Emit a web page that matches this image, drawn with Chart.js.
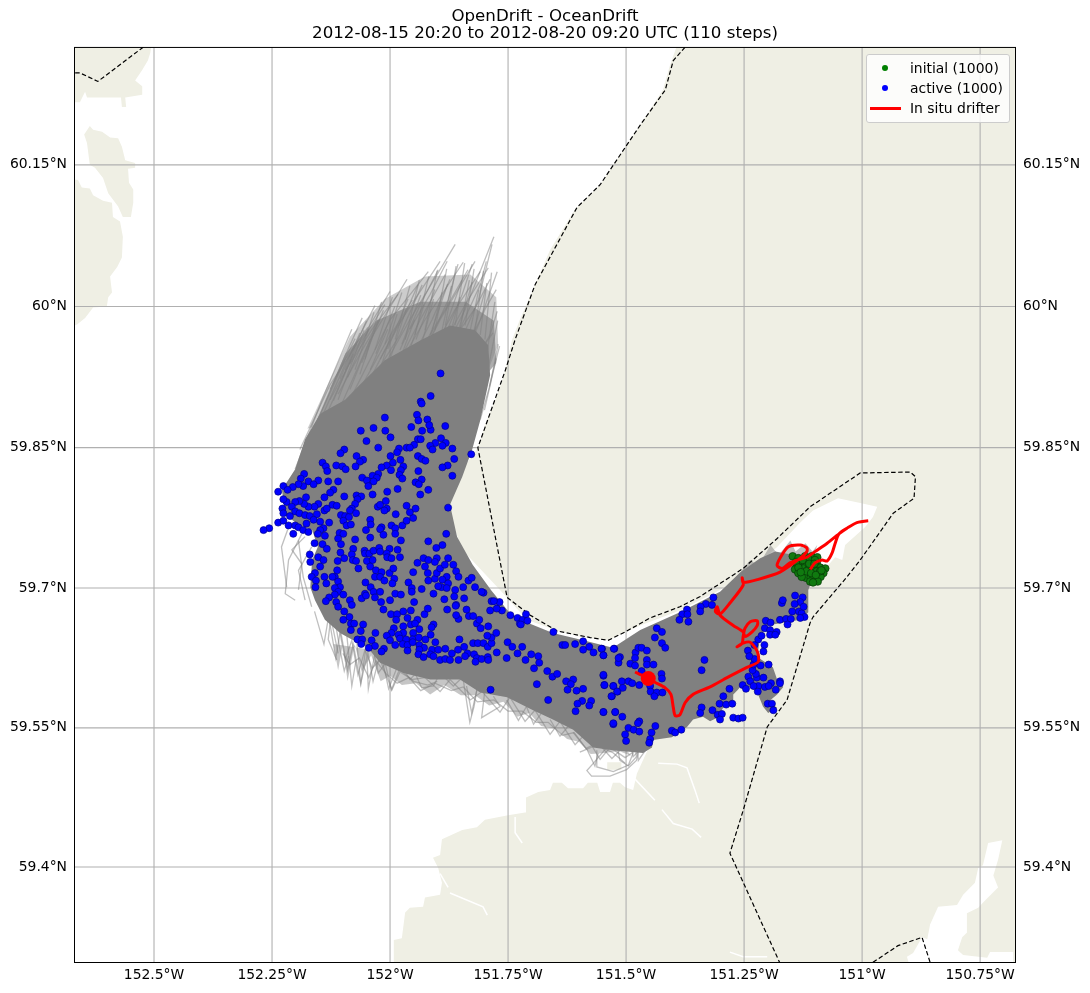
<!DOCTYPE html>
<html>
<head>
<meta charset="utf-8">
<title>OpenDrift - OceanDrift</title>
<script src="https://cdn.jsdelivr.net/npm/chart.js@4/dist/chart.umd.min.js"></script>
<style>
    body { margin: 0; background: #fff; font-family: "DejaVu Sans", sans-serif; }
    #wrap { position: relative; width: 1090px; height: 993px; }
    #legend {
        position: absolute; left: 866px; top: 54px; width: 142px; height: 67px;
        background: rgba(255,255,255,.8); border: 1px solid #ccc; border-radius: 3px;
        font-size: 13.9px; color: #000;
    }
    #legend div { position: absolute; left: 43px; white-space: nowrap; line-height: 16px; }
    #legend i { position: absolute; display: block; }
    #legend i.dot { left: 15px; width: 6px; height: 6px; border-radius: 50%; }
    #legend i.bar { left: 3px; top: 52px; width: 31px; height: 2.5px; background: #f00; }
</style>
</head>
<body>
<div id="wrap">
    <canvas id="chart" width="1090" height="993"></canvas>
    <div id="legend">
        <i class="dot" style="top:10px;background:#008000"></i><div id="lg0" style="top:5px"></div>
        <i class="dot" style="top:30px;background:#00f"></i><div id="lg1" style="top:25px"></div>
        <i class="bar"></i><div id="lg2" style="top:45px"></div>
    </div>
</div>
<script>
const titleLines = ["OpenDrift - OceanDrift", "2012-08-15 20:20 to 2012-08-20 09:20 UTC (110 steps)"];
const legendNames = ["initial (1000)", "active (1000)", "In situ drifter"];

const lonTicks = [-152.5, -152.25, -152, -151.75, -151.5, -151.25, -151, -150.75];
const lonTickLabels = ["152.5°W", "152.25°W", "152°W", "151.75°W", "151.5°W", "151.25°W", "151°W", "150.75°W"];
const latTicks = [59.4, 59.55, 59.7, 59.85, 60, 60.15];
const latTickLabels = ["59.4°N", "59.55°N", "59.7°N", "59.85°N", "60°N", "60.15°N"];
const lonLimits = [-152.6695, -150.674];
const latLimits = [59.2973, 60.2743];

// land, flat lon,lat lists
const landEast = [-151.992,59.25,-151.992,59.321,-151.975,59.323,-151.968,59.351,-151.958,59.356,-151.930,59.357,-151.926,59.367,-151.894,59.370,-151.890,59.383,-151.898,59.399,-151.909,59.410,-151.894,59.413,-151.890,59.430,-151.847,59.440,-151.816,59.443,-151.799,59.451,-151.750,59.456,-151.714,59.459,-151.712,59.475,-151.686,59.481,-151.661,59.483,-151.655,59.491,-151.636,59.491,-151.623,59.485,-151.591,59.485,-151.581,59.491,-151.561,59.491,-151.555,59.481,-151.534,59.481,-151.528,59.491,-151.513,59.491,-151.502,59.486,-151.485,59.483,-151.477,59.501,-151.449,59.532,-151.439,59.542,-151.40,59.56,-151.30,59.58,-151.24,59.61,-151.23,59.65,-151.20,59.67,-151.13,59.68,-151.115,59.70,-151.078,59.721,-151.057,59.733,-151.042,59.730,-151.036,59.746,-150.994,59.765,-150.977,59.776,-150.968,59.787,-151.004,59.791,-151.051,59.796,-151.104,59.783,-151.131,59.770,-151.180,59.744,-151.237,59.719,-151.301,59.698,-151.386,59.676,-151.470,59.660,-151.538,59.644,-151.591,59.647,-151.650,59.655,-151.710,59.666,-151.767,59.698,-151.847,59.741,-151.877,59.783,-151.862,59.816,-151.814,59.850,-151.799,59.874,-151.773,59.906,-151.756,59.932,-151.742,59.964,-151.725,59.986,-151.693,60.023,-151.661,60.060,-151.608,60.103,-151.555,60.129,-151.470,60.192,-151.422,60.229,-151.407,60.255,-151.375,60.3,-150.6,60.3,-150.6,59.25];
const landNorthWest = [-152.7,60.3,-152.498,60.3,-152.508,60.268,-152.513,60.260,-152.525,60.250,-152.540,60.239,-152.525,60.233,-152.525,60.224,-152.561,60.221,-152.559,60.211,-152.568,60.211,-152.570,60.221,-152.642,60.221,-152.646,60.227,-152.657,60.216,-152.7,60.216];
const landIsland = [-152.636,60.191,-152.629,60.187,-152.610,60.185,-152.593,60.179,-152.576,60.178,-152.568,60.169,-152.561,60.155,-152.540,60.152,-152.540,60.147,-152.555,60.146,-152.553,60.131,-152.544,60.124,-152.544,60.110,-152.549,60.095,-152.566,60.095,-152.576,60.106,-152.597,60.120,-152.608,60.136,-152.625,60.147,-152.636,60.150,-152.642,60.173,-152.648,60.182];
const landWest = [-152.7,60.136,-152.661,60.134,-152.653,60.126,-152.636,60.125,-152.629,60.118,-152.608,60.112,-152.589,60.110,-152.587,60.095,-152.572,60.090,-152.566,60.074,-152.568,60.052,-152.578,60.042,-152.593,60.032,-152.589,60.015,-152.597,60.010,-152.600,60.000,-152.629,59.999,-152.646,59.988,-152.663,59.981,-152.7,59.973];
const landSouthIslet = [-151.54,59.513,-151.51,59.513,-151.51,59.505,-151.54,59.505];
const landPolys = [landEast, landNorthWest, landIsland, landWest, landSouthIslet];

// water cutting through the land
const waterSouthEast = [-150.733,59.426,-150.744,59.402,-150.754,59.399,-150.761,59.383,-150.786,59.370,-150.799,59.359,-150.839,59.357,-150.856,59.338,-150.862,59.322,-150.873,59.324,-150.892,59.307,-150.905,59.303,-150.892,59.28,-150.680,59.28,-150.680,59.308,-150.729,59.308,-150.735,59.302,-150.786,59.305,-150.797,59.310,-150.788,59.324,-150.778,59.329,-150.778,59.350,-150.754,59.356,-150.739,59.364,-150.712,59.378,-150.722,59.391,-150.712,59.408,-150.703,59.429];
const waterChannels = [
    [-151.432,59.512,-151.392,59.511,-151.371,59.507,-151.354,59.483,-151.345,59.469],
    [-151.424,59.462,-151.400,59.447,-151.360,59.441,-151.341,59.432],
    [-151.485,59.497,-151.439,59.472],
    [-151.735,59.454,-151.735,59.437,-151.720,59.426],
    [-151.873,59.372,-151.803,59.357,-151.794,59.348],
    [-151.894,59.393,-151.877,59.378],
    [-151.280,59.308,-151.252,59.303,-151.201,59.303]
];

// maritime boundary, dashed
const boundaryNorthWest = [-152.667,60.247,-152.657,60.247,-152.619,60.238,-152.523,60.274];
const boundaryMain = [-151.375,60.274,-151.400,60.260,-151.417,60.229,-151.470,60.192,-151.555,60.129,-151.604,60.105,-151.693,60.023,-151.735,59.965,-151.756,59.932,-151.814,59.850,-151.752,59.690,-151.703,59.671,-151.646,59.654,-151.576,59.647,-151.538,59.644,-151.502,59.653,-151.449,59.668,-151.386,59.680,-151.343,59.691,-151.252,59.721,-151.180,59.753,-151.110,59.787,-151.004,59.823,-150.898,59.824,-150.887,59.819,-150.890,59.796,-150.934,59.780,-151.004,59.730,-151.032,59.712,-151.104,59.669,-151.110,59.663,-151.159,59.580,-151.201,59.551,-151.252,59.461,-151.280,59.415,-151.174,59.296];
const boundarySouthEast = [-150.977,59.297,-150.924,59.315,-150.873,59.324,-150.856,59.297];

// where the 1000 tracks overlap into solid grey
const trackCore = [-152.095,59.901,-152.064,59.917,-152.011,59.943,-151.936,59.964,-151.873,59.980,-151.820,59.975,-151.792,59.959,-151.788,59.927,-151.809,59.879,-151.826,59.848,-151.847,59.819,-151.873,59.789,-151.858,59.755,-151.825,59.725,-151.785,59.697,-151.746,59.673,-151.710,59.663,-151.655,59.652,-151.591,59.644,-151.528,59.636,-151.470,59.655,-151.386,59.674,-151.301,59.696,-151.258,59.717,-151.216,59.732,-151.184,59.739,-151.142,59.735,-151.121,59.719,-151.106,59.709,-151.114,59.698,-151.114,59.674,-151.131,59.666,-151.201,59.660,-151.216,59.648,-151.222,59.626,-151.189,59.615,-151.180,59.602,-151.167,59.594,-151.180,59.586,-151.201,59.577,-151.180,59.572,-151.199,59.566,-151.210,59.573,-151.222,59.588,-151.252,59.598,-151.263,59.591,-151.273,59.586,-151.273,59.578,-151.294,59.572,-151.307,59.561,-151.322,59.557,-151.337,59.562,-151.358,59.559,-151.371,59.551,-151.403,59.540,-151.443,59.537,-151.445,59.529,-151.464,59.523,-151.528,59.526,-151.570,59.529,-151.612,59.548,-151.655,59.559,-151.697,59.569,-151.752,59.583,-151.809,59.588,-151.852,59.602,-151.915,59.602,-151.972,59.609,-152.021,59.620,-152.049,59.637,-152.078,59.644,-152.106,59.652,-152.138,59.666,-152.159,59.687,-152.169,59.701,-152.165,59.730,-152.153,59.744,-152.165,59.762,-152.191,59.767,-152.222,59.778,-152.229,59.805,-152.201,59.827,-152.180,59.859,-152.148,59.886];
const fanHazeInner = [-152.148,59.886,-152.095,59.950,-152.030,59.985,-151.936,60.005,-151.840,60.005,-151.780,59.985,-151.775,59.94,-151.792,59.93];
const fanHazeOuter = [-152.175,59.870,-152.085,59.968,-152.011,60.008,-151.926,60.032,-151.830,60.034,-151.775,60.010,-151.771,59.960,-151.792,59.932];
const southHaze = [-152.120,59.640,-152.110,59.612,-152.100,59.640,-152.090,59.600,-152.075,59.640,-152.060,59.610,-152.040,59.628,-152.020,59.600,-152.000,59.606,-151.975,59.596,-151.945,59.598,-151.915,59.586,-151.885,59.596,-151.850,59.585,-151.820,59.585,-151.790,59.574,-151.760,59.578,-151.730,59.562,-151.705,59.566,-151.680,59.552,-151.650,59.549,-151.625,59.538,-151.600,59.535,-151.575,59.522,-151.545,59.523,-151.515,59.525,-151.490,59.520,-151.60,59.60];
const headHaze = [-151.258,59.717,-151.237,59.730,-151.220,59.724,-151.194,59.746,-151.177,59.735,-151.152,59.751,-151.141,59.739,-151.120,59.748,-151.105,59.739,-151.095,59.746,-151.105,59.730,-151.15,59.72];

const fanTracks = [
    [-152.201,59.827,-152.144,59.901,-152.081,59.976],
    [-152.180,59.848,-152.117,59.923,-152.059,59.988],
    [-152.165,59.859,-152.095,59.939,-152.032,60.001],
    [-152.148,59.870,-152.074,59.954,-152.000,60.016],
    [-152.117,59.880,-152.042,59.965,-151.964,60.029],
    [-152.095,59.891,-152.000,59.986,-151.919,60.037],
    [-152.085,59.880,-151.989,59.976,-151.894,60.048],
    [-152.053,59.901,-151.958,59.986,-151.862,60.066],
    [-152.011,59.912,-151.926,59.986,-151.845,60.047],
    [-151.979,59.901,-151.894,59.986,-151.820,60.048],
    [-151.915,59.923,-151.841,59.997,-151.780,60.074],
    [-151.852,59.944,-151.809,59.986,-151.773,60.037],
    [-151.830,59.923,-151.799,59.960,-151.782,59.972],
    [-152.064,59.912,-152.011,59.960,-151.953,60.007],
    [-152.038,59.923,-151.979,59.970,-151.932,60.023],
    [-152.127,59.901,-152.064,59.960,-152.011,60.002],
    [-152.110,59.907,-152.059,59.954,-152.021,59.986],
    [-152.153,59.880,-152.095,59.944,-152.047,59.978],
    [-152.191,59.848,-152.127,59.917,-152.070,59.960],
    [-152.000,59.923,-151.936,59.986,-151.883,60.034],
    [-151.966,59.933,-151.911,59.986,-151.873,60.029],
    [-151.947,59.944,-151.883,59.997,-151.835,60.039],
    [-151.926,59.939,-151.862,59.997,-151.809,60.037],
    [-151.894,59.954,-151.835,60.007,-151.792,60.041],
    [-151.873,59.960,-151.820,59.998,-151.788,60.029],
    [-151.862,59.949,-151.813,60.007,-151.784,60.066],
    [-151.830,59.960,-151.799,59.997,-151.775,60.018],
    [-151.820,59.944,-151.788,59.970,-151.773,59.995],
    [-151.809,59.880,-151.788,59.917,-151.771,59.960],
    [-151.979,59.954,-151.936,60.002,-151.898,60.039],
    [-152.021,59.944,-151.968,59.992,-151.941,60.023],
    [-151.915,59.965,-151.877,60.007,-151.856,60.045],
    [-151.883,59.970,-151.847,60.013,-151.826,60.045],
    [-152.085,59.939,-152.038,59.976,-151.983,60.013],
    [-151.958,59.976,-151.915,60.013,-151.879,60.048],
    [-151.852,59.976,-151.809,60.023,-151.796,60.048]
];
const fanStreaks = [
    [-152.127,59.912,-152.074,59.966],[-152.106,59.923,-152.064,59.972],[-152.110,59.901,-152.055,59.975],[-152.095,59.933,-152.050,59.985],
    [-152.085,59.912,-152.042,59.965],[-152.074,59.933,-152.034,59.994],[-152.064,59.928,-152.025,59.986],[-152.053,59.944,-152.018,60.005],
    [-152.042,59.933,-152.005,59.976],[-152.032,59.954,-151.995,60.010],[-152.021,59.933,-151.985,59.992],[-152.011,59.960,-151.975,60.015],
    [-152.000,59.944,-151.966,59.997],[-151.989,59.965,-151.958,60.022],[-151.979,59.944,-151.948,59.986],[-151.968,59.965,-151.938,60.028],
    [-151.958,59.954,-151.928,60.002],[-151.947,59.970,-151.918,60.032],[-151.936,59.954,-151.908,60.008],[-151.926,59.975,-151.900,60.038],
    [-151.915,59.965,-151.890,60.015],[-151.905,59.975,-151.880,60.040],[-151.894,59.965,-151.870,60.022],[-151.883,59.980,-151.860,60.043],
    [-151.873,59.970,-151.852,60.010],[-151.862,59.980,-151.842,60.046],[-151.852,59.975,-151.832,60.028],[-151.841,59.980,-151.822,60.040],
    [-151.830,59.975,-151.812,60.018],[-151.820,59.975,-151.802,60.038],[-151.809,59.970,-151.795,60.025],[-151.799,59.965,-151.785,60.036],
    [-151.795,59.950,-151.778,60.005],[-151.792,59.935,-151.772,59.985],[-151.790,59.915,-151.768,59.958],[-151.800,59.890,-151.775,59.945],
    [-152.120,59.900,-152.078,59.950],[-152.090,59.925,-152.046,59.976],[-152.060,59.940,-152.014,59.996],[-152.030,59.950,-151.990,60.000],
    [-152.005,59.955,-151.962,60.008],[-151.975,59.960,-151.935,60.012],[-151.945,59.965,-151.905,60.018],[-151.915,59.970,-151.878,60.024],
    [-151.885,59.975,-151.848,60.028],[-151.855,59.975,-151.826,60.026],[-151.825,59.970,-151.798,60.018]
];
const southFringeTracks = [
    [-152.134,59.687,-152.120,59.655,-152.110,59.630],
    [-152.117,59.666,-152.106,59.634,-152.097,59.611,-152.088,59.627],
    [-152.092,59.652,-152.081,59.595,-152.072,59.623],
    [-152.071,59.645,-152.062,59.598,-152.049,59.627,-152.046,59.592,-152.032,59.630],
    [-152.014,59.627,-151.997,59.591,-151.980,59.613],
    [-151.979,59.620,-151.958,59.602,-151.936,59.613],
    [-151.951,59.613,-151.933,59.593,-151.908,59.595,-151.894,59.609],
    [-151.894,59.609,-151.866,59.595,-151.845,59.605],
    [-151.845,59.602,-151.831,59.556,-151.822,59.573,-151.816,59.591],
    [-151.838,59.595,-151.827,59.566,-151.813,59.598],
    [-151.799,59.591,-151.806,59.561,-151.767,59.573,-151.781,59.584],
    [-151.753,59.580,-151.728,59.558,-151.711,59.573],
    [-151.711,59.573,-151.696,59.554,-151.679,59.566],
    [-151.661,59.559,-151.640,59.541,-151.622,59.552],
    [-151.612,59.545,-151.583,59.527,-151.566,59.509,-151.559,59.523],
    [-152.127,59.662,-152.131,59.645,-152.113,59.623],
    [-152.035,59.634,-152.025,59.609,-152.007,59.621],
    [-152.106,59.652,-152.095,59.623,-152.081,59.644,-152.068,59.607,-152.053,59.634,-152.038,59.614,-152.021,59.623,-151.996,59.591,-151.979,59.610,-151.953,59.602,-151.926,59.604,-151.894,59.589,-151.873,59.602,-151.830,59.580,-151.805,59.589,-151.767,59.567,-151.746,59.583,-151.714,59.557,-151.693,59.569,-151.661,59.543,-151.640,59.557,-151.608,59.532,-151.587,59.543,-151.555,59.516,-151.534,59.529,-151.502,59.518,-151.470,59.529],
    [-152.100,59.630,-152.085,59.618,-152.065,59.625,-152.045,59.604,-152.030,59.622,-152.008,59.608,-151.985,59.598,-151.960,59.604,-151.935,59.590,-151.905,59.598,-151.870,59.590,-151.845,59.594,-151.815,59.578,-151.780,59.580,-151.750,59.568,-151.720,59.568,-151.690,59.556,-151.665,59.556,-151.635,59.542,-151.610,59.545,-151.585,59.528,-151.560,59.534,-151.530,59.517,-151.505,59.530],
    [-152.160,59.675,-152.140,59.640,-152.130,59.670,-152.115,59.625,-152.105,59.655,-152.090,59.612,-152.078,59.640,-152.062,59.597,-152.050,59.640,-152.036,59.600,-152.020,59.632,-152.003,59.592,-151.985,59.615,-151.950,59.600,-151.920,59.596,-151.900,59.600]
];
const westFringeTracks = [
    [-152.187,59.758,-152.215,59.730,-152.222,59.694,-152.201,59.687],
    [-152.180,59.755,-152.208,59.741,-152.187,59.726,-152.194,59.698],
    [-152.166,59.744,-152.194,59.719,-152.180,59.687],
    [-152.215,59.765,-152.230,59.744,-152.219,59.701],
    [-152.194,59.751,-152.184,59.712,-152.166,59.680]
];
const southLoopTracks = [
    [-151.534,59.533,-151.569,59.512,-151.583,59.504,-151.573,59.498,-151.534,59.498,-151.499,59.505,-151.478,59.515,-151.471,59.530],
    [-151.562,59.526,-151.562,59.508,-151.527,59.503,-151.495,59.510,-151.485,59.523],
    [-151.520,59.533,-151.513,59.515,-151.495,59.509,-151.478,59.519,-151.481,59.533],
    [-151.598,59.524,-151.569,59.530,-151.541,59.537],
    [-151.555,59.530,-151.527,59.523,-151.502,59.512],
    [-151.492,59.537,-151.485,59.519,-151.464,59.530],
    [-151.478,59.537,-151.474,59.515,-151.449,59.533]
];

// active particles at the last step
const activeNorth = [[-151.893,59.929],[-151.914,59.905],[-151.935,59.899],[-151.933,59.897],[-151.943,59.885],[-151.940,59.879],[-151.921,59.880],[-152.011,59.882],[-152.062,59.868],[-152.035,59.871],[-152.010,59.868],[-151.955,59.872],[-151.932,59.868],[-151.914,59.869],[-151.917,59.874],[-151.883,59.873],[-151.999,59.861],[-152.050,59.857],[-152.025,59.850],[-151.941,59.859],[-151.935,59.859],[-151.949,59.853],[-151.965,59.850],[-151.958,59.850],[-151.981,59.849],[-151.985,59.845],[-151.892,59.860],[-151.882,59.855],[-151.904,59.855],[-151.889,59.852],[-151.915,59.852],[-151.910,59.848],[-151.868,59.849],[-151.864,59.838],[-151.828,59.843],[-152.097,59.848],[-152.105,59.844],[-152.071,59.841],[-152.057,59.837],[-152.064,59.835],[-152.073,59.830],[-152.114,59.831],[-152.143,59.834],[-152.136,59.830],[-152.133,59.825],[-152.101,59.830],[-152.094,59.827],[-151.999,59.841],[-151.978,59.837],[-151.941,59.841],[-151.933,59.838],[-151.925,59.836],[-151.972,59.830],[-151.977,59.826],[-151.878,59.831],[-151.889,59.829],[-151.868,59.820],[-151.940,59.825],[-151.994,59.834],[-152.007,59.831],[-152.018,59.829],[-151.998,59.826],[-152.025,59.822],[-152.037,59.820],[-152.028,59.818],[-152.059,59.818],[-152.049,59.815],[-152.035,59.814],[-152.046,59.809],[-151.980,59.821],[-151.974,59.817],[-151.933,59.816],[-151.946,59.813],[-151.939,59.811],[-151.919,59.805],[-151.936,59.800],[-151.984,59.806],[-152.006,59.803],[-152.037,59.800],[-152.097,59.798]];
const activeWest = [[-152.182,59.822],[-152.189,59.817],[-152.152,59.815],[-152.173,59.814],[-152.162,59.811],[-152.184,59.809],[-152.194,59.811],[-152.206,59.808],[-152.226,59.809],[-152.217,59.805],[-152.237,59.803],[-152.131,59.814],[-152.110,59.814],[-152.120,59.805],[-152.127,59.802],[-152.139,59.797],[-152.178,59.797],[-152.071,59.799],[-152.061,59.798],[-152.069,59.795],[-152.074,59.790],[-152.081,59.785],[-152.085,59.783],[-152.072,59.780],[-152.122,59.789],[-152.113,59.788],[-152.152,59.790],[-152.160,59.787],[-152.173,59.787],[-152.182,59.790],[-152.192,59.793],[-152.201,59.792],[-152.219,59.792],[-152.226,59.795],[-152.208,59.787],[-152.228,59.785],[-152.226,59.780],[-152.212,59.777],[-152.201,59.782],[-152.192,59.780],[-152.180,59.778],[-152.170,59.777],[-152.155,59.779],[-152.139,59.783],[-152.134,59.785],[-152.237,59.770],[-152.226,59.772],[-152.215,59.767],[-152.201,59.767],[-152.194,59.765],[-152.177,59.769],[-152.162,59.773],[-152.148,59.771],[-152.129,59.770],[-152.141,59.764],[-152.148,59.762],[-152.184,59.762],[-152.173,59.760],[-152.205,59.758],[-152.256,59.764],[-152.268,59.762],[-152.153,59.758],[-152.138,59.756],[-152.160,59.748],[-152.143,59.747],[-152.134,59.742],[-152.170,59.736],[-152.169,59.728],[-152.152,59.733],[-152.141,59.730],[-152.148,59.723],[-152.159,59.716],[-152.166,59.712],[-152.157,59.708],[-152.139,59.712],[-152.135,59.705],[-152.158,59.701]];
const activeMiddle = [[-152.104,59.778],[-152.095,59.777],[-152.087,59.776],[-152.099,59.772],[-152.092,59.767],[-152.083,59.768],[-152.107,59.759],[-152.099,59.758],[-152.110,59.753],[-152.104,59.747],[-152.074,59.752],[-152.051,59.762],[-152.042,59.773],[-152.041,59.768],[-152.018,59.765],[-152.021,59.763],[-152.014,59.757],[-152.042,59.754],[-151.997,59.767],[-151.989,59.764],[-151.989,59.758],[-151.974,59.767],[-151.965,59.772],[-151.951,59.775],[-151.958,59.781],[-151.965,59.788],[-151.946,59.785],[-151.988,59.779],[-152.007,59.785],[-152.012,59.783],[-152.026,59.787],[-152.021,59.789],[-152.009,59.793],[-151.877,59.786],[-151.881,59.758],[-151.919,59.750],[-151.902,59.743],[-151.889,59.746],[-151.977,59.751],[-152.078,59.742],[-152.081,59.736],[-152.105,59.738],[-152.097,59.732],[-152.111,59.729],[-152.079,59.730],[-152.072,59.729],[-152.067,59.721],[-152.054,59.740],[-152.053,59.737],[-152.044,59.737],[-152.035,59.740],[-152.023,59.743],[-152.021,59.739],[-152.001,59.742],[-151.984,59.741],[-152.007,59.737],[-152.006,59.733],[-151.997,59.732],[-151.979,59.733],[-152.049,59.729],[-152.037,59.730],[-152.042,59.723],[-152.030,59.719],[-152.018,59.717],[-152.032,59.712],[-152.021,59.712],[-152.001,59.716],[-151.993,59.721],[-151.991,59.710],[-151.995,59.705],[-152.012,59.708],[-152.052,59.706],[-152.041,59.701],[-152.053,59.694],[-152.035,59.696],[-152.021,59.696],[-151.961,59.706],[-151.951,59.717],[-151.954,59.700],[-151.954,59.696],[-151.933,59.699],[-151.942,59.727],[-151.929,59.732],[-151.919,59.730],[-151.901,59.732],[-151.905,59.728],[-151.926,59.723],[-151.920,59.716],[-151.919,59.708],[-151.905,59.710],[-151.901,59.716],[-151.894,59.721],[-151.884,59.725],[-151.877,59.732],[-151.866,59.725],[-151.860,59.718],[-151.855,59.712],[-151.880,59.712],[-151.889,59.709],[-151.877,59.705],[-151.891,59.701],[-151.880,59.700],[-151.898,59.702],[-151.908,59.694],[-151.862,59.698],[-151.864,59.691],[-151.843,59.689],[-151.845,59.701],[-151.834,59.708],[-151.827,59.711],[-151.820,59.701],[-151.806,59.696],[-151.885,59.688],[-151.861,59.681],[-152.112,59.719],[-152.117,59.712],[-152.122,59.712],[-152.110,59.707],[-152.106,59.701],[-152.117,59.700],[-152.110,59.696],[-152.117,59.693],[-152.129,59.690],[-152.136,59.686],[-152.099,59.693],[-152.085,59.687],[-152.114,59.685],[-152.110,59.680],[-152.081,59.682],[-152.060,59.689],[-152.051,59.692],[-152.032,59.690],[-152.019,59.685],[-152.000,59.687],[-151.989,59.694],[-151.977,59.693],[-151.949,59.685],[-151.920,59.678]];
const activeSouth = [[-152.097,59.675],[-152.086,59.669],[-152.099,59.666],[-152.083,59.662],[-152.076,59.662],[-152.057,59.661],[-152.062,59.654],[-152.083,59.655],[-152.031,59.652],[-152.069,59.645],[-152.059,59.645],[-152.061,59.640],[-152.039,59.644],[-152.032,59.638],[-152.045,59.636],[-152.013,59.635],[-152.018,59.632],[-152.014,59.677],[-151.998,59.672],[-151.985,59.672],[-151.972,59.675],[-151.956,59.676],[-151.927,59.672],[-151.987,59.666],[-151.963,59.668],[-151.942,59.666],[-151.972,59.659],[-151.956,59.661],[-151.947,59.662],[-151.908,59.661],[-151.912,59.658],[-151.992,59.657],[-151.938,59.656],[-151.972,59.652],[-151.997,59.652],[-152.007,59.649],[-151.982,59.650],[-151.951,59.652],[-151.914,59.650],[-152.000,59.644],[-151.979,59.646],[-151.966,59.645],[-151.952,59.645],[-151.939,59.647],[-151.925,59.645],[-151.989,59.639],[-151.973,59.640],[-151.963,59.639],[-151.952,59.642],[-151.963,59.633],[-151.938,59.639],[-151.928,59.636],[-151.938,59.634],[-151.940,59.629],[-151.929,59.626],[-151.904,59.642],[-151.853,59.645],[-151.911,59.634],[-151.898,59.634],[-151.883,59.635],[-151.915,59.629],[-151.908,59.627],[-151.894,59.623],[-151.883,59.624],[-151.873,59.623],[-151.869,59.630],[-151.856,59.634],[-151.843,59.637],[-151.836,59.630],[-151.855,59.623],[-151.841,59.627],[-151.822,59.629],[-151.816,59.625],[-151.819,59.621],[-151.806,59.624],[-151.793,59.626],[-151.792,59.623],[-151.824,59.641],[-151.814,59.641],[-151.802,59.641],[-151.793,59.637],[-151.785,59.641],[-151.785,59.647],[-151.794,59.649],[-151.775,59.652],[-151.774,59.631],[-151.753,59.625],[-151.751,59.642],[-151.741,59.637],[-151.730,59.630],[-151.720,59.637],[-151.701,59.629],[-151.713,59.623],[-151.686,59.627],[-151.684,59.620],[-151.695,59.614],[-151.689,59.597],[-151.667,59.611],[-151.656,59.605],[-151.646,59.608],[-151.627,59.600],[-151.612,59.602],[-151.617,59.597],[-151.624,59.591],[-151.605,59.590],[-151.591,59.592],[-151.665,59.580],[-151.787,59.591],[-151.593,59.579],[-151.603,59.576],[-151.574,59.579],[-151.578,59.574],[-151.607,59.568],[-151.548,59.567],[-151.523,59.567],[-151.527,59.555],[-151.548,59.607],[-151.546,59.596],[-151.527,59.595],[-151.519,59.589],[-151.531,59.584],[-151.516,59.625],[-151.792,59.659],[-151.816,59.662],[-151.811,59.666],[-151.808,59.657],[-151.833,59.670],[-151.824,59.670],[-151.855,59.667],[-151.860,59.671],[-151.788,59.676],[-151.763,59.676],[-151.745,59.671],[-151.730,59.668],[-151.725,59.662],[-151.719,59.666],[-151.709,59.665],[-151.712,59.672],[-151.723,59.661],[-151.654,59.653],[-151.635,59.639],[-151.629,59.639],[-151.608,59.640],[-151.591,59.643],[-151.591,59.634],[-151.578,59.637],[-151.569,59.631],[-151.552,59.635],[-151.548,59.628],[-151.526,59.635],[-151.774,59.678],[-151.785,59.686],[-151.768,59.685],[-151.780,59.686],[-151.860,59.682],[-151.879,59.677],[-151.838,59.677],[-151.802,59.695]];
const activeEast = [[-151.551,59.635],[-151.548,59.628],[-151.525,59.635],[-151.513,59.626],[-151.516,59.620],[-151.480,59.631],[-151.474,59.636],[-151.467,59.636],[-151.456,59.633],[-151.481,59.625],[-151.491,59.619],[-151.481,59.617],[-151.456,59.623],[-151.456,59.618],[-151.442,59.618],[-151.467,59.611],[-151.439,59.647],[-151.435,59.657],[-151.424,59.653],[-151.424,59.641],[-151.417,59.636],[-151.315,59.690],[-151.331,59.683],[-151.342,59.680],[-151.318,59.682],[-151.343,59.675],[-151.371,59.677],[-151.381,59.672],[-151.370,59.672],[-151.368,59.664],[-151.387,59.666],[-151.334,59.623],[-151.340,59.612],[-151.425,59.608],[-151.424,59.603],[-151.548,59.606],[-151.546,59.596],[-151.527,59.595],[-151.509,59.600],[-151.495,59.600],[-151.487,59.598],[-151.472,59.596],[-151.518,59.589],[-151.507,59.593],[-151.530,59.584],[-151.449,59.595],[-151.448,59.589],[-151.435,59.588],[-151.423,59.588],[-151.440,59.584],[-151.548,59.567],[-151.523,59.567],[-151.508,59.562],[-151.527,59.554],[-151.472,59.557],[-151.475,59.555],[-151.495,59.550],[-151.484,59.548],[-151.472,59.546],[-151.502,59.543],[-151.500,59.536],[-151.449,59.538],[-151.446,59.545],[-151.451,59.534],[-151.438,59.552],[-151.403,59.547],[-151.396,59.545],[-151.383,59.548],[-151.340,59.572],[-151.343,59.566],[-151.317,59.569],[-151.306,59.564],[-151.297,59.565],[-151.301,59.559],[-151.294,59.584],[-151.302,59.576],[-151.288,59.575],[-151.275,59.576],[-151.281,59.592],[-151.273,59.561],[-151.262,59.560],[-151.253,59.561],[-151.200,59.576],[-151.191,59.576],[-151.188,59.569],[-151.241,59.605],[-151.253,59.596],[-151.246,59.592],[-151.237,59.600],[-151.223,59.604],[-151.225,59.608],[-151.232,59.612],[-151.230,59.618],[-151.215,59.617],[-151.198,59.618],[-151.209,59.604],[-151.220,59.595],[-151.230,59.595],[-151.206,59.594],[-151.193,59.598],[-151.174,59.600],[-151.183,59.591],[-151.221,59.589],[-151.198,59.595],[-151.174,59.598],[-151.228,59.624],[-151.242,59.633],[-151.239,59.627],[-151.228,59.639],[-151.207,59.639],[-151.220,59.645],[-151.213,59.649],[-151.209,59.632],[-151.204,59.665],[-151.194,59.663],[-151.174,59.666],[-151.161,59.667],[-151.151,59.667],[-151.158,59.661],[-151.206,59.657],[-151.195,59.655],[-151.181,59.653],[-151.195,59.650],[-151.184,59.650],[-151.170,59.684],[-151.168,59.687],[-151.142,59.692],[-151.126,59.690],[-151.131,59.685],[-151.143,59.683],[-151.148,59.675],[-151.134,59.675],[-151.128,59.673],[-151.122,59.669],[-151.131,59.668],[-151.124,59.680]];

// seeded particles at the first step
const initialPts = [[-151.147,59.734],[-151.135,59.732],[-151.131,59.728],[-151.121,59.734],[-151.107,59.734],[-151.095,59.733],[-151.138,59.725],[-151.128,59.726],[-151.117,59.728],[-151.107,59.728],[-151.096,59.727],[-151.142,59.720],[-151.131,59.721],[-151.121,59.723],[-151.110,59.723],[-151.100,59.721],[-151.089,59.722],[-151.078,59.721],[-151.135,59.716],[-151.124,59.716],[-151.114,59.714],[-151.103,59.717],[-151.093,59.716],[-151.082,59.716],[-151.119,59.711],[-151.109,59.711],[-151.098,59.710],[-151.088,59.712],[-151.124,59.721],[-151.114,59.720],[-151.105,59.720],[-151.096,59.718],[-151.103,59.712],[-151.128,59.712],[-151.114,59.731],[-151.100,59.730],[-151.089,59.718],[-151.094,59.707],[-151.140,59.728],[-151.126,59.730],[-151.112,59.726],[-151.101,59.726],[-151.135,59.722],[-151.118,59.718],[-151.108,59.716],[-151.130,59.717],[-151.098,59.714],[-151.086,59.719],[-151.110,59.707],[-151.104,59.706]];

// in situ drifter track, ends at the big dot
const drifterLon = [-151.110,-151.100,-151.085,-151.074,-151.064,-151.057,-151.049,-151.032,-151.011,-150.987,-151.011,-151.032,-151.049,-151.074,-151.100,-151.117,-151.131,-151.153,-151.169,-151.180,-151.174,-151.157,-151.131,-151.117,-151.117,-151.131,-151.174,-151.222,-151.252,-151.254,-151.252,-151.280,-151.301,-151.311,-151.307,-151.301,-151.273,-151.252,-151.248,-151.233,-151.222,-151.222,-151.237,-151.248,-151.252,-151.254,-151.265,-151.252,-151.237,-151.222,-151.220,-151.244,-151.286,-151.322,-151.358,-151.375,-151.386,-151.396,-151.400,-151.405,-151.417,-151.439,-151.453,-151.481];
const drifterLat = [59.720,59.727,59.730,59.729,59.737,59.748,59.758,59.764,59.770,59.772,59.770,59.764,59.758,59.748,59.739,59.733,59.731,59.727,59.721,59.724,59.732,59.744,59.746,59.743,59.739,59.732,59.717,59.709,59.706,59.711,59.703,59.684,59.672,59.675,59.680,59.671,59.660,59.653,59.648,59.653,59.660,59.665,59.664,59.657,59.648,59.641,59.637,59.641,59.642,59.632,59.621,59.615,59.604,59.594,59.586,59.577,59.564,59.563,59.572,59.586,59.593,59.599,59.603,59.610];
const drifterEnd = [-151.453, 59.603];

// Mercator, the map projection of the original
const merc = lat => Math.log(Math.tan(Math.PI / 4 + lat * Math.PI / 360)) * 180 / Math.PI;
const yMin = merc(latLimits[0]);
const yMax = merc(latLimits[1]);

const toPoints = flat => {
    const pts = [];
    for (let i = 0; i < flat.length; i += 2) pts.push({ x: flat[i], y: merc(flat[i + 1]) });
    return pts;
};

const lineSet = (flat, order, extra) => ({
    type: "scatter", showLine: true, data: toPoints(flat), order,
    pointRadius: 0, borderWidth: 1, fill: false, ...extra
});

const polySet = (flat, color, order, extra) => lineSet(flat, order, {
    fill: "shape", backgroundColor: color, borderWidth: 0, borderColor: "transparent", ...extra
});

const markerSet = (pairs, color, edge, order, radius) => ({
    type: "scatter", order,
    data: pairs.map(p => ({ x: p[0], y: merc(p[1]) })),
    pointRadius: radius, backgroundColor: color, borderColor: edge, borderWidth: 0.7
});

const datasets = [];

const landColor = "#efefe4";
landPolys.forEach(p => datasets.push(polySet(p, landColor, 50)));
datasets.push(polySet(waterSouthEast, "#fff", 45));
waterChannels.forEach(c => datasets.push(lineSet(c, 45, { borderColor: "#fff", borderWidth: 1.5 })));

lonTicks.forEach(t => datasets.push(lineSet([t, latLimits[0], t, latLimits[1]], 40, { borderColor: "#b0b0b0", borderWidth: 1.1 })));
latTicks.forEach(t => datasets.push(lineSet([lonLimits[0], t, lonLimits[1], t], 40, { borderColor: "#b0b0b0", borderWidth: 1.1 })));

datasets.push(polySet(fanHazeOuter, "rgba(128,128,128,.4)", 32));
datasets.push(polySet(fanHazeInner, "rgba(128,128,128,.65)", 31));
datasets.push(polySet(southHaze, "rgba(128,128,128,.45)", 31));
datasets.push(polySet(headHaze, "rgba(128,128,128,.5)", 31));
[...fanTracks, ...fanStreaks, ...southFringeTracks, ...westFringeTracks, ...southLoopTracks].forEach(t =>
    datasets.push(lineSet(t, 30, { borderColor: "rgba(128,128,128,.5)", borderWidth: 1.3 })));
datasets.push(polySet(trackCore, "#808080", 28));

[boundaryNorthWest, boundaryMain, boundarySouthEast].forEach(b =>
    datasets.push(lineSet(b, 20, { borderColor: "#000", borderWidth: 1.2, borderDash: [4.5, 2.5] })));

[activeNorth, activeWest, activeMiddle, activeSouth, activeEast].forEach(a =>
    datasets.push(markerSet(a, "#0000ff", "#00008b", 10, 3.5)));
datasets.push(markerSet(initialPts, "#107a10", "#063806", 5, 3.8));

const drifterFlat = [];
drifterLon.forEach((lon, i) => drifterFlat.push(lon, drifterLat[i]));
datasets.push(lineSet(drifterFlat, 3, { borderColor: "#ff0000", borderWidth: 3, tension: 0.25 }));
datasets.push({
    type: "scatter", order: 2,
    data: [{ x: drifterEnd[0], y: merc(drifterEnd[1]) }],
    pointRadius: 7.5, backgroundColor: "#ff0000", borderWidth: 0
});

const framePlugin = {
    id: "frame",
    afterDatasetsDraw(chart) {
        const { ctx, chartArea: a } = chart;
        ctx.save();
        ctx.strokeStyle = "#000";
        ctx.lineWidth = 1;
        ctx.strokeRect(a.left + .5, a.top + .5, a.right - a.left - 1, a.bottom - a.top);
        ctx.restore();
    }
};

const tickFont = { family: "'DejaVu Sans'", size: 13.9 };

const latAxis = position => ({
    type: "linear", position, min: yMin, max: yMax,
    grid: { display: false, drawTicks: false }, border: { display: false },
    afterBuildTicks: s => { s.ticks = latTicks.map(t => ({ value: merc(t) })); },
    afterFit: s => { s.width = 74; },
    ticks: {
        color: "#000", font: tickFont, padding: 7, autoSkip: false,
        callback: (v, i) => latTickLabels[i]
    }
});

new Chart(document.getElementById("chart"), {
    data: { datasets },
    plugins: [framePlugin],
    options: {
        responsive: false,
        animation: false,
        events: [],
        layout: { padding: 0 },
        plugins: {
            legend: { display: false },
            tooltip: { enabled: false },
            title: {
                display: true, text: titleLines, color: "#000",
                font: { family: "'DejaVu Sans'", size: 16.67, weight: "normal", lineHeight: 1.03 },
                padding: { top: 8, bottom: 4.6 }
            }
        },
        scales: {
            x: {
                type: "linear", min: lonLimits[0], max: lonLimits[1],
                grid: { display: false, drawTicks: false }, border: { display: false },
                afterBuildTicks: s => { s.ticks = lonTicks.map(t => ({ value: t })); },
                afterFit: s => { s.height = 31; },
                ticks: {
                    color: "#000", font: tickFont, padding: 5, autoSkip: false, maxRotation: 0,
                    callback: (v, i) => lonTickLabels[i]
                }
            },
            y: latAxis("left"),
            y2: latAxis("right")
        }
    }
});

legendNames.forEach((name, i) => { document.getElementById("lg" + i).textContent = name; });
</script>
</body>
</html>
